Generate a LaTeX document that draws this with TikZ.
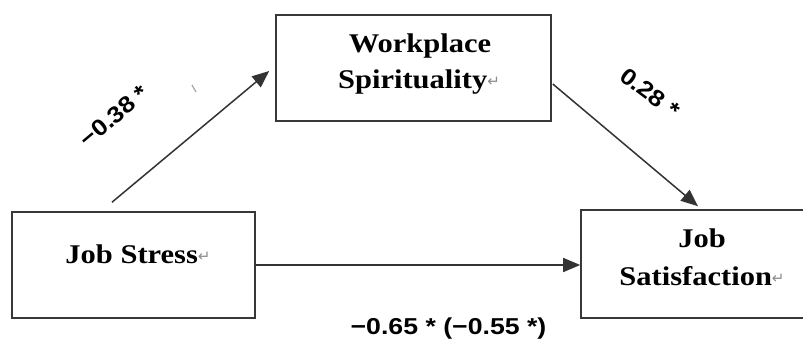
\documentclass[tikz,border=0pt]{standalone}
\usepackage{fontspec}
\usepackage{graphicx}
\setmainfont{Liberation Serif}
\newfontfamily\labfont{Liberation Sans}
\newfontfamily\retfont{DejaVu Sans}
\usetikzlibrary{arrows.meta,calc}
\newcommand{\sx}[1]{\scalebox{1.13}[1]{#1}}
\newcommand{\ret}{{\retfont\mdseries\fontsize{15}{15}\selectfont\color{black!45}\raisebox{2pt}{↵}}}
\begin{document}
\begin{tikzpicture}[x=1pt,y=-1pt,
  box/.style={draw=black!78, line width=1.6pt, minimum width=243pt, minimum height=106pt, inner sep=0pt},
  boxtxt/.style={font=\fontsize{27}{27}\selectfont\bfseries, inner sep=0pt, anchor=base},
  coef/.style={font=\labfont\fontsize{23}{23}\selectfont\bfseries, inner sep=0pt},
  conn/.style={draw=black!80, line width=1.5pt, -{Triangle[length=17pt,width=14pt]}}]
\useasboundingbox (0,0) rectangle (803,340);
\clip (0,0) rectangle (803,340);
\fill[white] (0,0) rectangle (803,340);
% boxes
\node[box] (js) at (133.5,265) {};
\node[box, minimum width=275pt] (ws) at (413.5,68) {};
\node[box, minimum width=260pt, minimum height=108pt] (jsat) at (711,264) {};
% box texts
\node[boxtxt] (jst) at (138,263) {\sx{Job Stress}\ret};
\node[boxtxt] (wst1) at (420,52) {\sx{Workplace}};
\node[boxtxt] (wst2) at (419,88) {\sx{Spirituality}\ret};
\node[boxtxt] (jsatt1) at (702,247) {\sx{Job}};
\node[boxtxt] (jsatt2) at (702,285) {\sx{Satisfaction}\ret};
% connectors
\coordinate (a1s) at ($(js.north)+(-21.5,-9)$);
\coordinate (a1e) at ($(ws.west)+(-6,3)$);
\coordinate (a2s) at ($(ws.east)+(1,16)$);
\coordinate (a2e) at ($(jsat.north)+(-13,-3)$);
\draw[conn] (a1s) -- (a1e);
\draw[conn] (a2s) -- (a2e);
\draw[conn] (js.east) -- (js.east -| jsat.west);
% coefficients
\node[coef, rotate=40] (c1) at (114,116) {\scalebox{1.12}[1]{−0.38 *}};
\node[coef, rotate=-37] (c2) at (650,93) {\scalebox{1.12}[1]{0.28 *}};
\node[coef] (c3) at (448.5,329) {\scalebox{1.16}[1]{−0.65 * (−0.55 *)}};
% stray mark
\draw[black!35, line width=1.2pt] (192,85) -- (196,92);
\end{tikzpicture}
\end{document}
